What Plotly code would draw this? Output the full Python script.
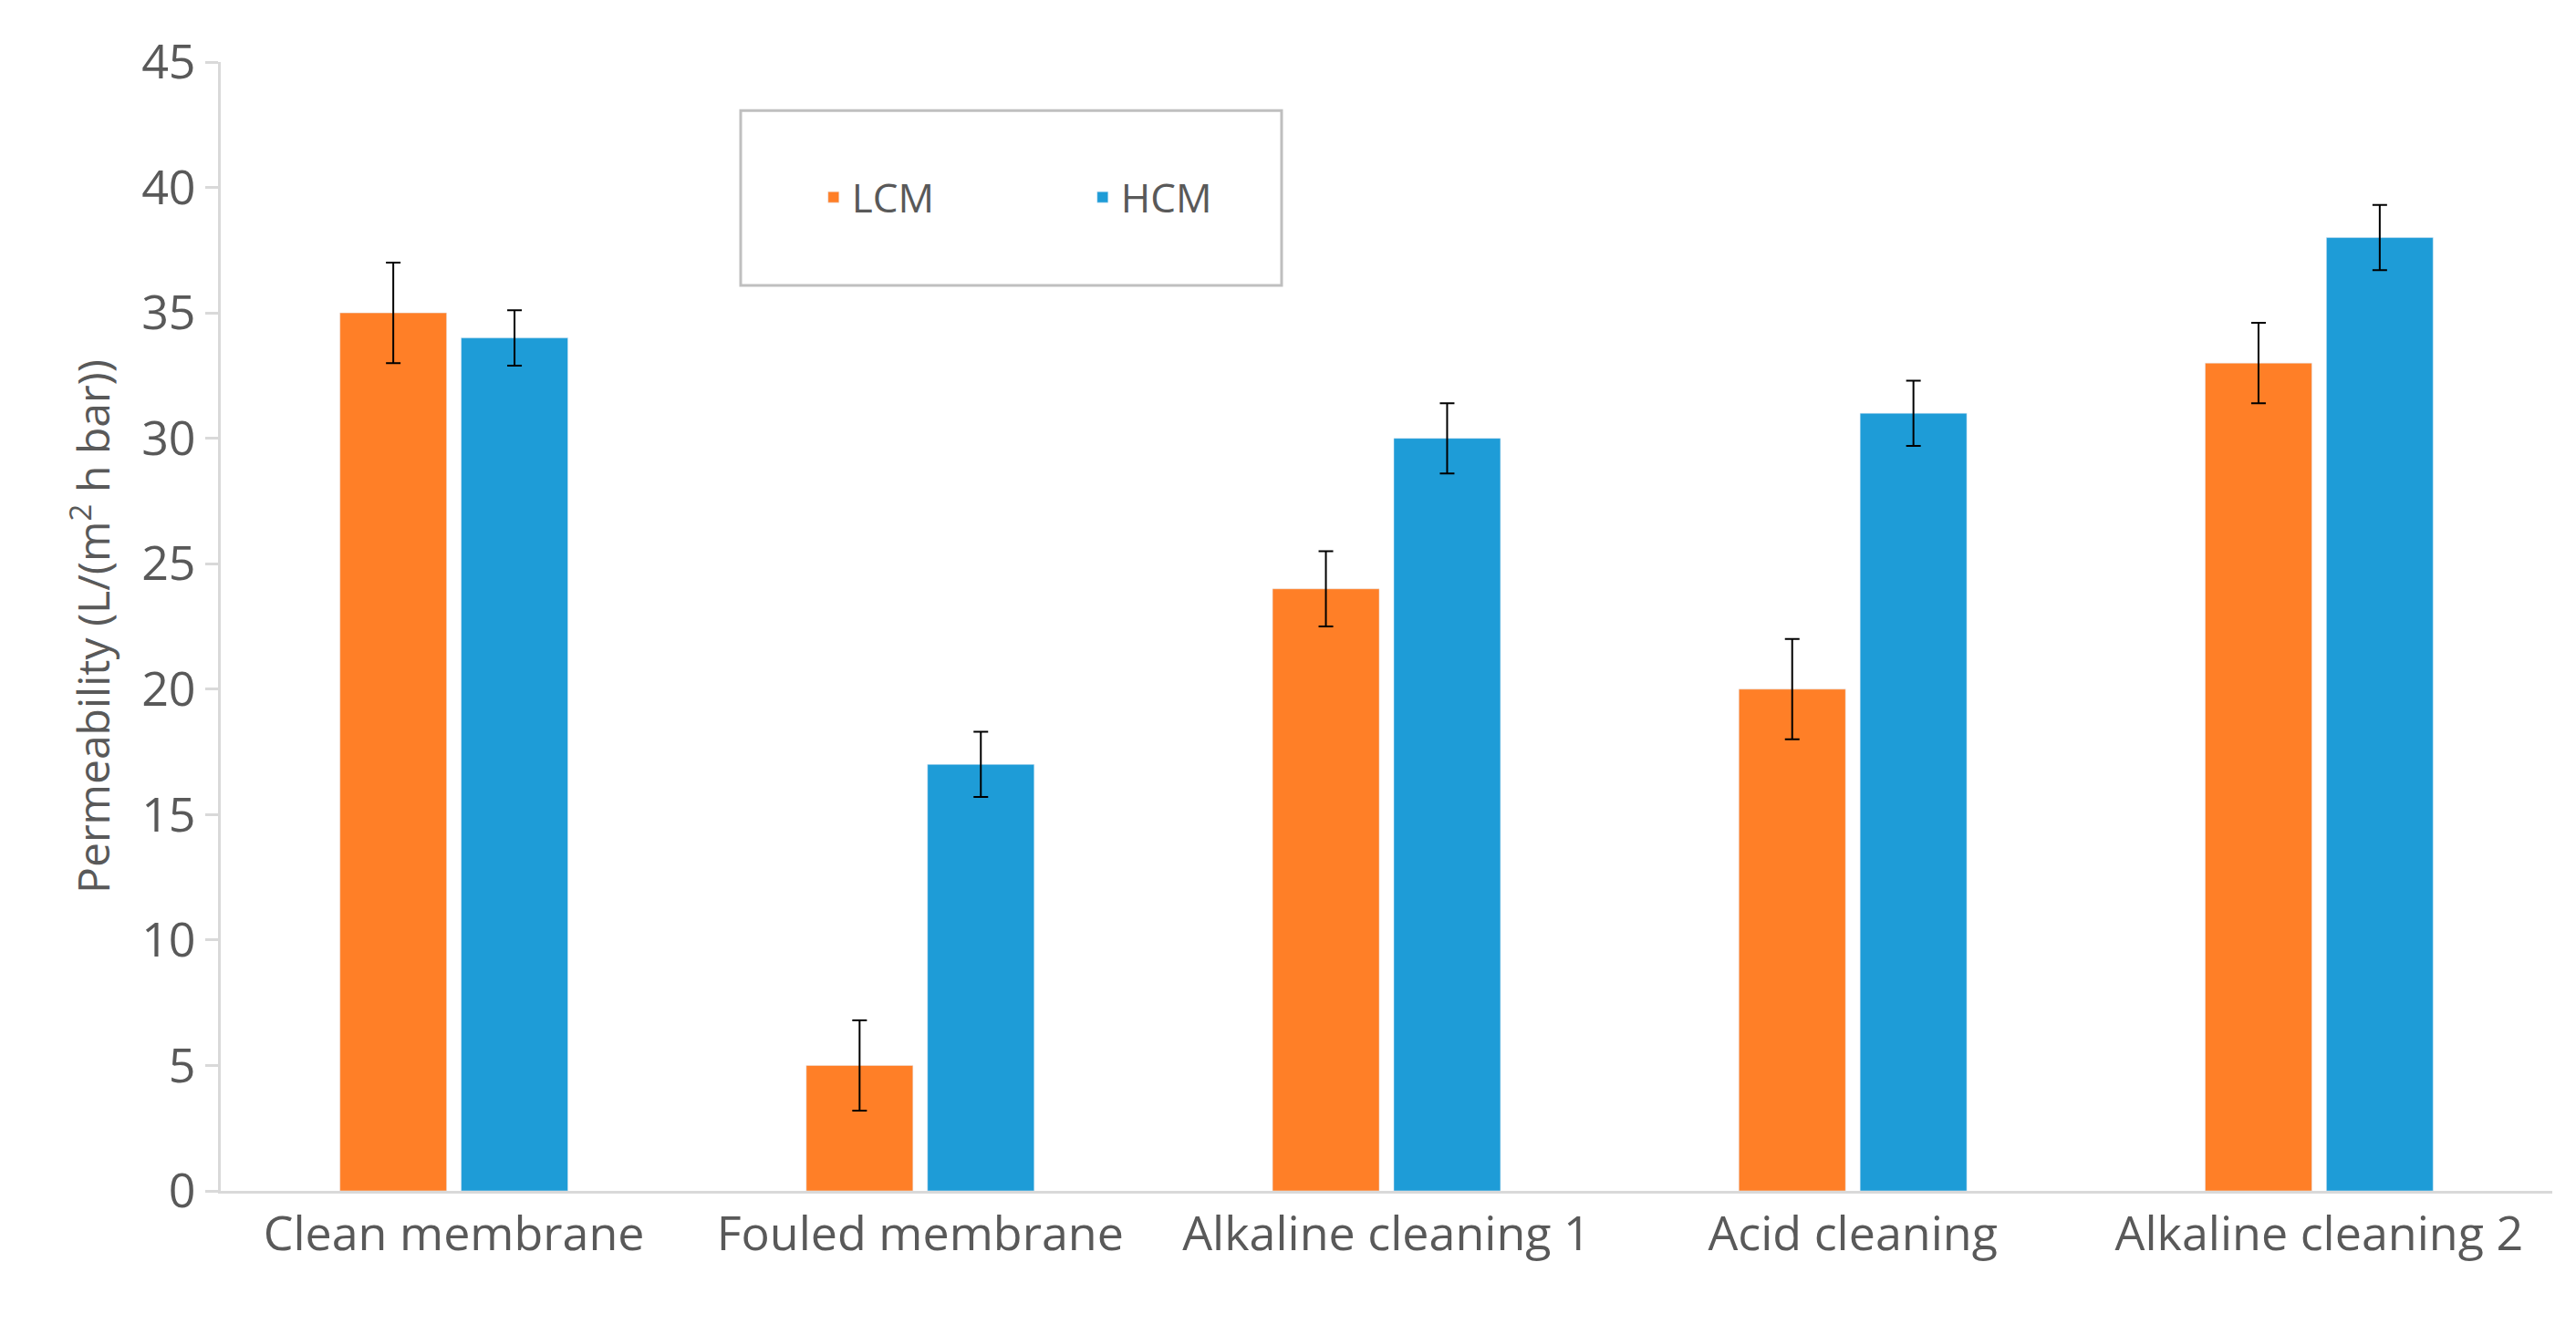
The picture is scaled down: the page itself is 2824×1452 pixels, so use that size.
import plotly.graph_objects as go

categories = ["Clean membrane", "Fouled membrane", "Alkaline cleaning 1", "Acid cleaning", "Alkaline cleaning 2"]
lcm = [35, 5, 24, 20, 33]
lcm_err = [2.0, 1.8, 1.5, 2.0, 1.6]
hcm = [34, 17, 30, 31, 38]
hcm_err = [1.1, 1.3, 1.4, 1.3, 1.3]

fig = go.Figure()
fig.add_bar(name="LCM", x=categories, y=lcm, marker_color="#FF7F27",
            error_y=dict(type="data", array=lcm_err, color="black", thickness=2, width=8))
fig.add_bar(name="HCM", x=categories, y=hcm, marker_color="#1E9CD7",
            error_y=dict(type="data", array=hcm_err, color="black", thickness=2, width=8))

fig.add_shape(type="rect", xref="paper", yref="paper", x0=0.223, x1=0.455, y0=0.802, y1=0.957,
              line=dict(color="#BFBFBF", width=3), fillcolor="rgba(0,0,0,0)", layer="above")

fig.update_layout(
    width=2824, height=1452, plot_bgcolor="white", paper_bgcolor="white",
    barmode="group", bargap=0.48, bargroupgap=0.12,
    margin=dict(l=234, r=34, t=60, b=154),
    font=dict(family="Open Sans", color="#595959"),
    legend=dict(orientation="h", x=0.255, y=0.88, xanchor="left", yanchor="middle",
                borderwidth=0, bgcolor="rgba(0,0,0,0)", font=dict(size=44),
                entrywidth=250),
    xaxis=dict(showline=True, linecolor="#D9D9D9", linewidth=3, tickfont=dict(size=52)),
    yaxis=dict(range=[0, 45], dtick=5, showgrid=False, showline=True, linecolor="#D9D9D9",
               linewidth=3, ticks="outside", ticklen=14, tickcolor="#D9D9D9", tickwidth=3,
               tickfont=dict(size=52), zeroline=False,
               title=dict(text="Permeability (L/(m<sup>2</sup> h bar))", font=dict(size=48), standoff=20)),
)
fig.write_html("out.html")
